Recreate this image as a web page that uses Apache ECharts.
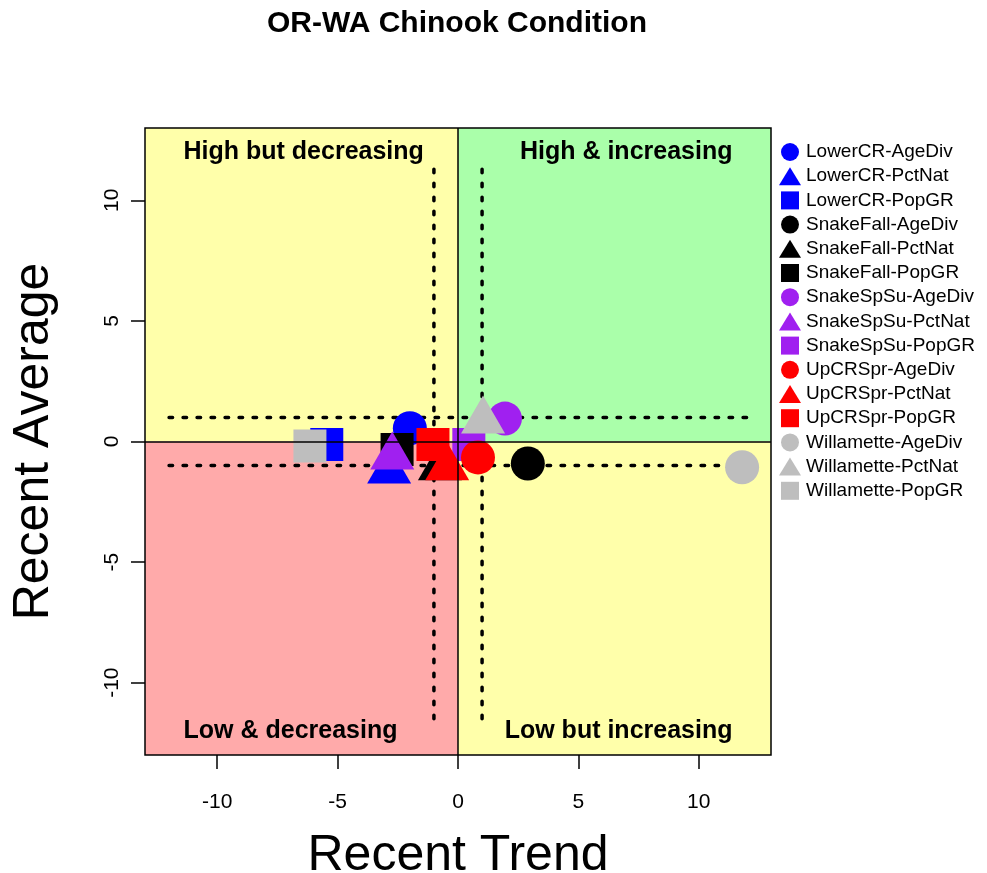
<!DOCTYPE html>
<html lang="en">
<head>
<meta charset="UTF-8">
<title>OR-WA Chinook Condition</title>
<script src="https://cdn.jsdelivr.net/npm/echarts@6/dist/echarts.min.js"></script>
<style>
body{margin:0;padding:0;background:#fff;}
#main{width:987px;height:873px;}
</style>
</head>
<body>
<div id="main"></div>
<script>
// ---- data ----
var groups  = ['LowerCR', 'SnakeFall', 'SnakeSpSu', 'UpCRSpr', 'Willamette'];
var metrics = ['AgeDiv', 'PctNat', 'PopGR'];
// recent trend (x) / recent average (y), one value per group
var ageDivTrend = [-2.0, 2.9, 1.95, 0.83, 11.8];
var ageDivAvg   = [0.55, -0.91, 0.95, -0.66, -1.07];
var pctNatTrend = [-2.86, -0.75, -2.73, -0.45, 1.04];
var pctNatAvg   = [-1.2, -1.07, -0.62, -1.07, 0.87];
var popGRTrend  = [-5.45, -2.53, 0.45, -1.04, -6.15];
var popGRAvg    = [-0.12, -0.33, -0.12, -0.12, -0.19];

var axisRange = [-13, 13];
var axisTicks = [-10, -5, 0, 5, 10];
var quadrantNames = ['High but decreasing', 'High & increasing', 'Low & decreasing', 'Low but increasing'];
var quadrantX = [-11.4, 11.4, -11.4, 11.4];
var quadrantY = [12, 12, -12, -12];
var guideLevels = [-1, 1];
var guideSpanH = [-12, 12];
var guideSpanV = [-11.5, 11.5];

// ---- styles ----
var groupColors = ['#0000ff', '#000000', '#a020f0', '#ff0000', '#bebebe'];
var metricSymbols = ['circle', 'triangle', 'rect'];
var metricSizes = [34, [44, 38], 33];
var metricOffsets = [[0, 0], [0, -6], [0, 0]];
var squareIcon = 'path://M0,0L10,0L10,10L0,10Z';

var trendByMetric = [ageDivTrend, pctNatTrend, popGRTrend];
var avgByMetric = [ageDivAvg, pctNatAvg, popGRAvg];
var lo = axisRange[0], hi = axisRange[1];

var series = [];
var legendData = [];

// quadrant backgrounds + zero lines
series.push({
    type: 'line',
    data: [],
    silent: true,
    z: 1,
    markArea: {
        silent: true,
        data: [
            [{coord: [lo, 0], itemStyle: {color: '#ffffaa'}}, {coord: [0, hi]}],
            [{coord: [0, 0], itemStyle: {color: '#aaffaa'}}, {coord: [hi, hi]}],
            [{coord: [lo, lo], itemStyle: {color: '#ffaaaa'}}, {coord: [0, 0]}],
            [{coord: [0, lo], itemStyle: {color: '#ffffaa'}}, {coord: [hi, 0]}]
        ]
    },
    markLine: {
        silent: true,
        symbol: 'none',
        label: {show: false},
        lineStyle: {color: '#000', width: 1.5, type: 'solid'},
        data: [{xAxis: 0}, {yAxis: 0}]
    }
});

// dotted guide lines
guideLevels.forEach(function (g) {
    series.push({
        type: 'line', silent: true, symbol: 'none', z: 2,
        lineStyle: {color: '#000', width: 3.5, type: [3.5, 10.5], cap: 'round'},
        data: [[guideSpanH[0], g], [guideSpanH[1], g]]
    });
    series.push({
        type: 'line', silent: true, symbol: 'none', z: 2,
        lineStyle: {color: '#000', width: 3.5, type: [3.5, 10.5], cap: 'round'},
        data: [[g, guideSpanV[0]], [g, guideSpanV[1]]]
    });
});

// points, drawn group by group like the legend
groups.forEach(function (grp, gi) {
    metrics.forEach(function (m, mi) {
        var name = grp + '-' + m;
        series.push({
            name: name,
            type: 'scatter',
            z: 3,
            symbol: metricSymbols[mi],
            symbolSize: metricSizes[mi],
            symbolOffset: metricOffsets[mi],
            itemStyle: {color: groupColors[gi], opacity: 1},
            data: [[trendByMetric[mi][gi], avgByMetric[mi][gi]]]
        });
        legendData.push(mi === 2 ? {name: name, icon: squareIcon} : {name: name});
    });
});

// quadrant captions
series.push({
    type: 'scatter',
    silent: true,
    z: 4,
    symbolSize: 1,
    itemStyle: {color: 'rgba(0,0,0,0)'},
    data: quadrantNames.map(function (n, i) {
        return {
            name: n,
            value: [quadrantX[i], quadrantY[i]],
            label: {align: quadrantX[i] < 0 ? 'left' : 'right'}
        };
    }),
    label: {
        show: true,
        position: 'inside',
        formatter: '{b}',
        color: '#000',
        opacity: 1,
        textBorderWidth: 0,
        fontSize: 25,
        fontWeight: 'bold',
        verticalAlign: 'middle'
    }
});

var myChart = echarts.init(document.getElementById('main'));
var option = {
    animation: false,
    backgroundColor: '#fff',
    textStyle: {fontFamily: 'Liberation Sans, Arial, sans-serif'},
    title: {
        text: 'OR-WA Chinook Condition',
        left: 452,
        top: 4,
        textAlign: 'center',
        textStyle: {fontSize: 30, fontWeight: 'bold', color: '#000'}
    },
    legend: {
        orient: 'vertical',
        left: 774,
        top: 135,
        itemWidth: 22,
        itemHeight: 18,
        itemGap: 0.2,
        itemTextGap: 9,
        textStyle: {fontSize: 19, color: '#000', lineHeight: 24},
        data: legendData
    },
    grid: {
        left: 145, right: 216, top: 128, bottom: 118,
        show: true,
        z: 5,
        backgroundColor: 'transparent',
        borderColor: '#000',
        borderWidth: 1.5,
        outerBoundsMode: 'none'
    },
    xAxis: {
        type: 'value',
        min: lo, max: hi,
        name: 'Recent Trend',
        nameLocation: 'middle',
        nameGap: 76,
        nameTextStyle: {fontSize: 50, color: '#000'},
        splitLine: {show: false},
        axisLine: {show: false, onZero: false},
        axisTick: {show: true, length: 14, lineStyle: {color: '#000', width: 1.5}, customValues: axisTicks},
        axisLabel: {fontSize: 21, color: '#000', margin: 37, customValues: axisTicks}
    },
    yAxis: {
        type: 'value',
        min: lo, max: hi,
        name: 'Recent Average',
        nameLocation: 'middle',
        nameGap: 86,
        nameTextStyle: {fontSize: 50, color: '#000'},
        splitLine: {show: false},
        axisLine: {show: false, onZero: false},
        axisTick: {show: true, length: 14, lineStyle: {color: '#000', width: 1.5}, customValues: axisTicks},
        axisLabel: {fontSize: 21, color: '#000', margin: 22, rotate: 90, customValues: axisTicks}
    },
    series: series
};
myChart.setOption(option);
</script>
</body>
</html>
